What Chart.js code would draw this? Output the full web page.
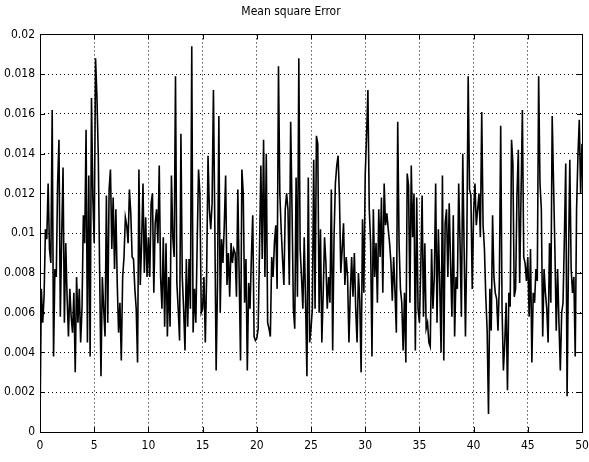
<!DOCTYPE html>
<html lang="en">
<head>
    <meta charset="UTF-8" />
    <title>Mean square Error</title>
    <script src="https://cdn.jsdelivr.net/npm/chart.js"></script>
    <style>
        body {
          margin: 0;
          background: #fff;
        }

        .chart-container {
          width: 589px;
          height: 462px;
        }
    </style>
</head>
<body>

<div class="chart-container">
    <canvas id="mseChart"></canvas>
</div>

<script>
    // x runs 0..50 in steps of 0.125 (8 samples per unit)
    const xStep = 0.125;
    const xTicks = [0, 5, 10, 15, 20, 25, 30, 35, 40, 45, 50];
    const yTicks = [0, 0.002, 0.004, 0.006, 0.008, 0.01, 0.012, 0.014, 0.016, 0.018, 0.02];

    // mean square error readings, one row per unit of x
    const mse = [
      0.0004, 0.0072, 0.0055, 0.0068, 0.0102, 0.0097, 0.0125, 0.0092,
      0.0085, 0.0162, 0.0038, 0.0082, 0.0078, 0.0125, 0.0147, 0.0058,
      0.0098, 0.0133, 0.0055, 0.0095, 0.0068, 0.0048, 0.0072, 0.0058,
      0.0050, 0.0070, 0.0030, 0.0078, 0.0055, 0.0072, 0.0045, 0.0062,
      0.0109, 0.0095, 0.0152, 0.0045, 0.0129, 0.0038, 0.0168, 0.0118,
      0.0095, 0.0188, 0.0169, 0.0140, 0.0082, 0.0028, 0.0078, 0.0062,
      0.0048, 0.0119, 0.0055, 0.0122, 0.0132, 0.0092, 0.0118, 0.0082,
      0.0112, 0.0075, 0.0050, 0.0065, 0.0036, 0.0078, 0.0088, 0.0108,
      0.0104, 0.0095, 0.0122, 0.0110, 0.0088, 0.0087, 0.0072, 0.0062,
      0.0035, 0.0132, 0.0074, 0.0095, 0.0125, 0.0080, 0.0108, 0.0078,
      0.0098, 0.0078, 0.0115, 0.0120, 0.0070, 0.0105, 0.0112, 0.0095,
      0.0134, 0.0078, 0.0062, 0.0098, 0.0053, 0.0095, 0.0048, 0.0078,
      0.0053, 0.0129, 0.0098, 0.0088, 0.0179, 0.0075, 0.0062, 0.0046,
      0.0150, 0.0078, 0.0062, 0.0041, 0.0087, 0.0053, 0.0087, 0.0062,
      0.0194, 0.0050, 0.0072, 0.0055, 0.0095, 0.0132, 0.0120, 0.0060,
      0.0062, 0.0078, 0.0045, 0.0080, 0.0139, 0.0112, 0.0102, 0.0115,
      0.0172, 0.0105, 0.0031, 0.0075, 0.0159, 0.0060, 0.0097, 0.0085,
      0.0104, 0.0129, 0.0074, 0.0090, 0.0068, 0.0095, 0.0085, 0.0092,
      0.0090, 0.0068, 0.0122, 0.0078, 0.0036, 0.0132, 0.0120, 0.0065,
      0.0087, 0.0031, 0.0075, 0.0062, 0.0088, 0.0109, 0.0048, 0.0046,
      0.0047, 0.0052, 0.0092, 0.0134, 0.0087, 0.0147, 0.0078, 0.0140,
      0.0055, 0.0052, 0.0048, 0.0088, 0.0078, 0.0095, 0.0104, 0.0072,
      0.0184, 0.0120, 0.0102, 0.0087, 0.0074, 0.0112, 0.0120, 0.0112,
      0.0074, 0.0156, 0.0112, 0.0062, 0.0052, 0.0128, 0.0068, 0.0188,
      0.0092, 0.0078, 0.0062, 0.0098, 0.0065, 0.0028, 0.0128, 0.0045,
      0.0052, 0.0062, 0.0137, 0.0062, 0.0149, 0.0145, 0.0060, 0.0102,
      0.0045, 0.0070, 0.0098, 0.0085, 0.0062, 0.0078, 0.0065, 0.0122,
      0.0041, 0.0098, 0.0125, 0.0134, 0.0139, 0.0118, 0.0080, 0.0092,
      0.0105, 0.0074, 0.0088, 0.0078, 0.0045, 0.0070, 0.0088, 0.0068,
      0.0090, 0.0062, 0.0045, 0.0080, 0.0066, 0.0030, 0.0107, 0.0070,
      0.0129, 0.0149, 0.0172, 0.0112, 0.0095, 0.0038, 0.0112, 0.0078,
      0.0095, 0.0065, 0.0112, 0.0088, 0.0118, 0.0070, 0.0125, 0.0104,
      0.0110, 0.0102, 0.0095, 0.0085, 0.0066, 0.0088, 0.0070, 0.0050,
      0.0156, 0.0095, 0.0072, 0.0065, 0.0041, 0.0070, 0.0035, 0.0130,
      0.0124, 0.0065, 0.0134, 0.0098, 0.0120, 0.0041, 0.0118, 0.0062,
      0.0055, 0.0082, 0.0119, 0.0058, 0.0095, 0.0052, 0.0055, 0.0045,
      0.0043, 0.0092, 0.0062, 0.0078, 0.0125, 0.0055, 0.0102, 0.0075,
      0.0040, 0.0129, 0.0036, 0.0105, 0.0112, 0.0078, 0.0115, 0.0085,
      0.0058, 0.0109, 0.0048, 0.0078, 0.0072, 0.0125, 0.0095, 0.0058,
      0.0140, 0.0092, 0.0048, 0.0095, 0.0179, 0.0122, 0.0119, 0.0072,
      0.0110, 0.0125, 0.0104, 0.0112, 0.0120, 0.0098, 0.0161, 0.0104,
      0.0092, 0.0068, 0.0051, 0.0009, 0.0072, 0.0051, 0.0109, 0.0078,
      0.0070, 0.0067, 0.0051, 0.0075, 0.0154, 0.0062, 0.0031, 0.0045,
      0.0065, 0.0021, 0.0070, 0.0063, 0.0147, 0.0135, 0.0068, 0.0072,
      0.0119, 0.0142, 0.0075, 0.0119, 0.0162, 0.0088, 0.0085, 0.0076,
      0.0088, 0.0058, 0.0092, 0.0035, 0.0070, 0.0065, 0.0082, 0.0076,
      0.0179, 0.0125, 0.0112, 0.0048, 0.0082, 0.0070, 0.0062, 0.0045,
      0.0095, 0.0065, 0.0159, 0.0125, 0.0092, 0.0051, 0.0082, 0.0055,
      0.0031, 0.0060, 0.0065, 0.0098, 0.0135, 0.0018, 0.0085, 0.0137,
      0.0082, 0.0070, 0.0078, 0.0038, 0.0112, 0.0139, 0.0157, 0.0120,
      0.0145
    ];

    const fontFamily = "'DejaVu Sans Condensed', 'Liberation Sans Narrow', 'Liberation Sans', sans-serif";

    // MATLAB style box with inward ticks on all four sides
    const boxPlugin = {
      id: 'box',
      afterDraw(chart) {
        const ctx = chart.ctx;
        const a = chart.chartArea;
        const xs = chart.scales.x;
        const ys = chart.scales.y;
        ctx.save();
        ctx.strokeStyle = '#000';
        ctx.lineWidth = 1;
        ctx.strokeRect(Math.round(a.left) + 0.5, Math.round(a.top) + 0.5,
                       Math.round(a.right - a.left), Math.round(a.bottom - a.top));
        ctx.beginPath();
        xTicks.forEach(v => {
          const px = Math.round(xs.getPixelForValue(v)) + 0.5;
          ctx.moveTo(px, a.bottom); ctx.lineTo(px, a.bottom - 5);
          ctx.moveTo(px, a.top); ctx.lineTo(px, a.top + 5);
        });
        yTicks.forEach(v => {
          const py = Math.round(ys.getPixelForValue(v)) + 0.5;
          ctx.moveTo(a.left, py); ctx.lineTo(a.left + 5, py);
          ctx.moveTo(a.right, py); ctx.lineTo(a.right - 5, py);
        });
        ctx.stroke();
        ctx.restore();
      }
    };

    const ctx = document.getElementById('mseChart').getContext('2d');

    new Chart(ctx, {
      type: 'line',
      data: {
        datasets: [{
          label: 'Mean square Error',
          data: mse.map((v, i) => ({ x: i * xStep, y: v })),
          borderColor: '#000',
          borderWidth: 1.6,
          pointRadius: 0,
          tension: 0,
          fill: false
        }]
      },
      options: {
        responsive: true,
        maintainAspectRatio: false,
        animation: false,
        layout: { padding: { left: 0, right: 7, top: 0, bottom: 0 } },
        plugins: {
          legend: { display: false },
          tooltip: { enabled: false },
          title: {
            display: true,
            text: 'Mean square Error',
            color: '#000',
            font: { family: fontFamily, size: 12, weight: 'normal' },
            padding: { top: 5, bottom: 15 }
          }
        },
        scales: {
          x: {
            type: 'linear',
            min: 0,
            max: 50,
            afterBuildTicks: s => { s.ticks = xTicks.map(v => ({ value: v })); },
            afterFit: s => { s.height = 30; s.paddingLeft = 0; s.paddingRight = 0; },
            ticks: {
              color: '#000',
              font: { family: fontFamily, size: 12 },
              padding: 7,
              maxRotation: 0
            },
            grid: { color: '#000', drawTicks: false, lineWidth: 1 },
            border: { display: false, dash: [1, 3] }
          },
          y: {
            min: 0,
            max: 0.02,
            afterBuildTicks: s => { s.ticks = yTicks.map(v => ({ value: v })); },
            afterFit: s => { s.width = 40; s.paddingTop = 0; s.paddingBottom = 0; },
            ticks: {
              color: '#000',
              font: { family: fontFamily, size: 12 },
              padding: 5,
              callback: v => String(Number(v.toFixed(3)))
            },
            grid: { color: '#000', drawTicks: false, lineWidth: 1 },
            border: { display: false, dash: [1, 3] }
          }
        }
      },
      plugins: [boxPlugin]
    });
</script>

</body>
</html>
